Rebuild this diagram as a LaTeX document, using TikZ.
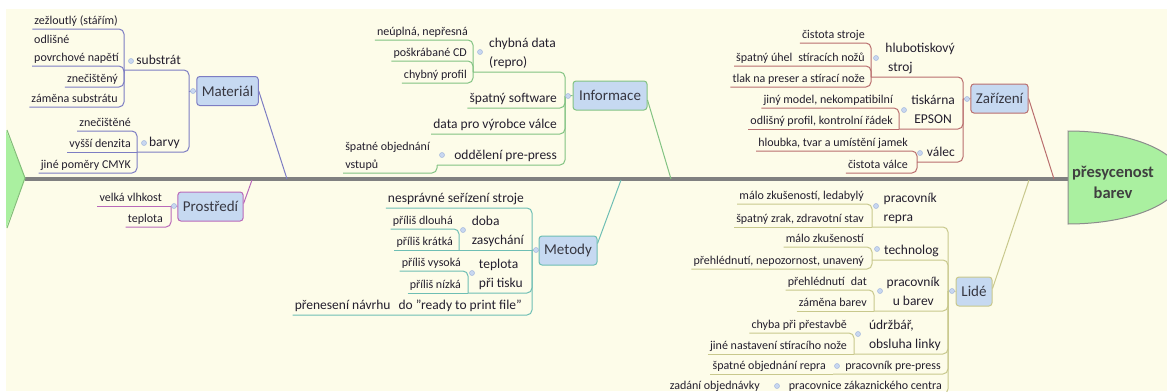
\documentclass[tikz,border=0pt]{standalone}
\usepackage{fontspec}
\setmainfont{Carlito}
\definecolor{bg}{RGB}{253,252,233}
\definecolor{txt}{RGB}{35,30,45}
\definecolor{cattxt}{RGB}{55,55,65}
\definecolor{matC}{RGB}{125,125,195}
\definecolor{proC}{RGB}{185,105,185}
\definecolor{infC}{RGB}{130,195,130}
\definecolor{metC}{RGB}{110,190,180}
\definecolor{zarC}{RGB}{185,110,110}
\definecolor{lidC}{RGB}{200,200,140}
\definecolor{boxfill}{RGB}{198,217,241}
\definecolor{dotfill}{RGB}{200,215,240}
\definecolor{dotdraw}{RGB}{165,185,220}
\definecolor{headG}{RGB}{170,240,160}
\definecolor{headB}{RGB}{140,140,140}
\definecolor{tailB}{RGB}{130,190,120}
\definecolor{spine}{RGB}{128,128,128}
\newcommand\lnkA[3]{\draw[#1] (#2.south west) -- (#2.south west -| #3) -- (#3);}
\newcommand\lnkS[3]{\draw[#1] (#2.south west) -- (#3);}
\newcommand\lnkP[3]{\draw[#1] (#2) -- (#2 -| #3) -- (#3);}
\tikzset{
  leaf/.style={anchor=south east, inner xsep=2pt, inner ysep=1.5pt, text depth=3pt, font=\fontsize{12}{18}\selectfont, text=txt},
  mid/.style={anchor=south east, inner xsep=2pt, inner ysep=1.5pt, text depth=3.5pt, font=\fontsize{13.5}{19}\selectfont, text=txt},
  cat/.style={draw, fill=boxfill, rounded corners=3pt, line width=1pt, minimum height=29pt, inner xsep=5pt, font=\fontsize{15}{18}\selectfont, text=cattxt},
  dot/.style={circle, fill=dotfill, draw=dotdraw, line width=0.5pt, minimum size=5pt, inner sep=0pt},
  cn/.style={rounded corners=5pt, line width=1pt},
  cM/.style={cn, draw=matC}, cP/.style={cn, draw=proC}, cI/.style={cn, draw=infC},
  cT/.style={cn, draw=metC}, cZ/.style={cn, draw=zarC}, cL/.style={cn, draw=lidC},
}
\begin{document}
\begin{tikzpicture}[x=1pt,y=-1pt]
\useasboundingbox (0,0) rectangle (1167,391);
\fill[white] (0,0) rectangle (1167,391);
\fill[bg] (6,9) rectangle (1167,391);

% spine, tail and head
\draw[spine, line width=4pt] (25,179) -- (1070,179);
\fill[headG] (6,130) -- (25,178) -- (6,228) -- cycle;
\draw[tailB, line width=1pt] (7,130) -- (25,178) -- (7,228);
\path[fill=headG, draw=headB, line width=1pt] (1068,131) .. controls (1130.4,131) and (1181,151.8) .. (1181,177.5) .. controls (1181,203.2) and (1130.4,224) .. (1068,224) -- cycle;
\node[align=center, font=\bfseries\fontsize{16.5}{21}\selectfont, text={rgb,255:red,64;green,64;blue,64}] (head) at (1113,182) {přesycenost\\barev};

% ---------------- Materiál
\node[leaf] (z1) at (120,29) {zežloutlý (stářím)};
\node[leaf, align=left] (z2) at (121,66) {odlišné\\povrchové napětí};
\node[leaf] (z3) at (120,87) {znečištěný};
\node[leaf] (z4) at (120,107) {záměna substrátu};
\coordinate (bSub) at (124,70);
\node[mid] (sub) at (183,70) {substrát};
\node[leaf] (b1) at (133,131) {znečištěné};
\node[leaf] (b2) at (133,152) {vyšší denzita};
\node[leaf] (b3) at (133,173) {jiné poměry CMYK};
\coordinate (bBar) at (137,152);
\node[mid] (bar) at (182,152) {barvy};
\coordinate (bMat) at (189,91);
\node[cat, draw=matC, minimum width=61pt] (Mat) at (227.5,91) {Materiál};
\coordinate (sMat) at (287,179);
\lnkA{cM}{z1}{bSub}\lnkA{cM}{z2}{bSub}\lnkA{cM}{z3}{bSub}\lnkA{cM}{z4}{bSub}
\lnkA{cM}{b1}{bBar}\lnkS{cM}{b2}{bBar}\lnkA{cM}{b3}{bBar}
\lnkP{cM}{bSub}{bMat}\lnkP{cM}{bBar}{bMat}
\draw[cM] (bMat) -- (Mat.west);
\draw[cM] (Mat.east) -- (sMat);

% ---------------- Prostředí
\node[leaf] (p1) at (164,206) {velká vlhkost};
\node[leaf] (p2) at (165,227) {teplota};
\coordinate (bPro) at (171,206);
\node[cat, draw=proC, minimum width=65pt] (Pro) at (210.5,206.5) {Prostředí};
\coordinate (sPro) at (252,180);
\lnkS{cP}{p1}{bPro}\lnkA{cP}{p2}{bPro}
\draw[cP] (bPro) -- (Pro.west);
\draw[cP] ([yshift=3pt]Pro.east) -- (sPro);

% ---------------- Informace
\node[leaf] (i1) at (470,40) {neúplná, nepřesná};
\node[leaf] (i2) at (469,61) {poškrábané CD};
\node[leaf] (i3) at (469,83) {chybný profil};
\coordinate (bChy) at (473,72);
\node[mid, align=left] (chy) at (558,72) {chybná data\\(repro)};
\node[mid] (sof) at (559,108) {špatný software};
\node[mid] (dat) at (559,134) {data pro výrobce válce};
\node[leaf, align=left] (i4) at (432,173) {špatné objednání\\vstupů};
\coordinate (bOdd) at (437,165);
\node[mid] (odd) at (559,165) {oddělení pre-press};
\coordinate (bInf) at (565,96);
\node[cat, draw=infC, minimum width=74pt] (Inf) at (610,95.5) {Informace};
\coordinate (sInf) at (671,179);
\lnkA{cI}{i1}{bChy}\lnkA{cI}{i2}{bChy}\lnkA{cI}{i3}{bChy}
\lnkA{cI}{i4}{bOdd}
\lnkP{cI}{bChy}{bInf}\lnkA{cI}{sof}{bInf}\lnkA{cI}{dat}{bInf}\lnkP{cI}{bOdd}{bInf}
\draw[cI] (bInf) -- (Inf.west);
\draw[cI] ([yshift=-4.5pt]Inf.east) -- (sInf);

% ---------------- Metody
\node[mid] (m1) at (526,208) {nesprávné seřízení stroje};
\node[leaf] (m2) at (455,229) {příliš dlouhá};
\node[leaf] (m3) at (455,250) {příliš krátká};
\coordinate (bDob) at (459,250);
\node[mid, align=left] (dob) at (526,250) {doba\\zasychání};
\node[leaf] (m4) at (463,271) {příliš vysoká};
\node[leaf] (m5) at (463,293) {příliš nízká};
\coordinate (bTep) at (468,293);
\node[mid, align=left] (tep) at (525,293) {teplota\\při tisku};
\node[mid] (m6) at (524,315) {přenesení návrhu\hspace{0.6em}do "ready to print file"};
\coordinate (bMet) at (532,250);
\node[cat, draw=metC, minimum width=58pt] (Met) at (568,250.5) {Metody};
\coordinate (sMet) at (621,180);
\lnkA{cT}{m2}{bDob}\lnkS{cT}{m3}{bDob}
\lnkA{cT}{m4}{bTep}\lnkS{cT}{m5}{bTep}
\lnkA{cT}{m1}{bMet}\draw[cT] (bDob) -- (bMet);\lnkP{cT}{bTep}{bMet}\lnkA{cT}{m6}{bMet}
\draw[cT] (bMet) -- (Met.west);
\draw[cT] ([yshift=7pt]Met.east) -- (sMet);

% ---------------- Zařízení
\node[leaf] (h1) at (867,43) {čistota stroje};
\node[leaf] (h2) at (867,66) {špatný úhel\hspace{0.5em}stíracích nožů};
\node[leaf] (h3) at (867,87) {tlak na preser a stírací nože};
\coordinate (bHlu) at (871,77);
\node[mid, align=left] (hlu) at (957,77) {hlubotiskový\\\hspace{0.2em}stroj};
\node[leaf] (t1) at (895,108) {jiný model, nekompatibilní};
\node[leaf] (t2) at (895,129) {odlišný profil, kontrolní řádek};
\coordinate (bTis) at (899,129);
\node[mid, align=center] (tis) at (957,129) {tiskárna\\EPSON};
\node[leaf] (v1) at (910,151) {hloubka, tvar a umístění jamek};
\node[leaf] (v2) at (910,173) {čistota válce};
\coordinate (bVal) at (917,162);
\node[mid] (val) at (957,162) {válec};
\coordinate (bZar) at (963,99);
\node[cat, draw=zarC, minimum width=57pt] (Zar) at (999.5,98.5) {Zařízení};
\coordinate (sZar) at (1054,179);
\lnkA{cZ}{h1}{bHlu}\lnkA{cZ}{h2}{bHlu}\lnkA{cZ}{h3}{bHlu}
\lnkA{cZ}{t1}{bTis}\lnkS{cZ}{t2}{bTis}
\lnkA{cZ}{v1}{bVal}\lnkA{cZ}{v2}{bVal}
\lnkP{cZ}{bHlu}{bZar}\lnkP{cZ}{bTis}{bZar}\lnkP{cZ}{bVal}{bZar}
\draw[cZ] (bZar) -- (Zar.west);
\draw[cZ] (Zar.east) -- (sZar);

% ---------------- Lidé
\node[leaf] (l1) at (866,204) {málo zkušeností, ledabylý};
\node[leaf] (l2) at (866,227) {špatný zrak, zdravotní stav};
\coordinate (bPR) at (872,227);
\node[mid, align=left] (pr) at (939,227) {pracovník\\repra};
\node[leaf] (l3) at (866,247) {málo zkušeností};
\node[leaf] (l4) at (866,269) {přehlédnutí, nepozornost, unavený};
\coordinate (bTec) at (872,260);
\node[mid] (tec) at (941,260) {technolog};
\node[leaf] (l5) at (869,290) {přehlédnutí\hspace{0.5em}dat};
\node[leaf] (l6) at (869,311) {záměna barev};
\coordinate (bPUB) at (874,311);
\node[mid, align=center] (pub) at (942,311) {pracovník\\u barev};
\node[leaf] (l7) at (849,333) {chyba při přestavbě};
\node[leaf] (l8) at (849,354) {jiné nastavení stíracího nože};
\coordinate (bUdr) at (854,354);
\node[mid, align=left] (udr) at (943,354) {údržbář,\\obsluha linky};
\node[leaf] (l9) at (828,374) {špatné objednání repra};
\coordinate (bPP) at (833,374);
\node[leaf] (pp) at (943,374) {pracovník pre-press};
\node[leaf] (l10) at (762,394) {zadání objednávky};
\coordinate (bPZ) at (770,394);
\node[leaf] (pz) at (944,394) {pracovnice zákaznického centra};
\coordinate (bLid) at (948,291);
\node[cat, draw=lidC, minimum width=36pt] (Lid) at (974,291.5) {Lidé};
\coordinate (sLid) at (1029,180);
\lnkA{cL}{l1}{bPR}\lnkS{cL}{l2}{bPR}
\lnkA{cL}{l3}{bTec}\lnkA{cL}{l4}{bTec}
\lnkA{cL}{l5}{bPUB}\lnkS{cL}{l6}{bPUB}
\lnkA{cL}{l7}{bUdr}\lnkS{cL}{l8}{bUdr}
\lnkS{cL}{l9}{bPP}
\lnkS{cL}{l10}{bPZ}
\lnkP{cL}{bPR}{bLid}\lnkP{cL}{bTec}{bLid}\lnkP{cL}{bPUB}{bLid}\lnkP{cL}{bUdr}{bLid}\lnkP{cL}{bPP}{bLid}\lnkP{cL}{bPZ}{bLid}
\draw[cL] (bLid) -- (Lid.west);
\draw[cL] ([yshift=3pt]Lid.east) -- (sLid);

% ---------------- dots
\node[dot] (dSub) at (131,61) {};
\node[dot] (dBar) at (144,143) {};
\node[dot] (dMat) at (193,91) {};
\node[dot] (dPro) at (174,206) {};
\node[dot] (dChy) at (480,52) {};
\node[dot] (dOdd) at (442,155) {};
\node[dot] (dInf) at (568,96) {};
\node[dot] (dDob) at (463,230) {};
\node[dot] (dTep) at (472,273) {};
\node[dot] (dMet) at (536,250) {};
\node[dot] (dHlu) at (876,58) {};
\node[dot] (dTis) at (904,110) {};
\node[dot] (dVal) at (920,153) {};
\node[dot] (dZar) at (967,99) {};
\node[dot] (dPR) at (876,206) {};
\node[dot] (dTec) at (877,249) {};
\node[dot] (dPUB) at (880,291) {};
\node[dot] (dUdr) at (858,334) {};
\node[dot] (dPP) at (837,366) {};
\node[dot] (dPZ) at (777,386) {};
\node[dot] (dLid) at (952,291) {};
\end{tikzpicture}
\end{document}
